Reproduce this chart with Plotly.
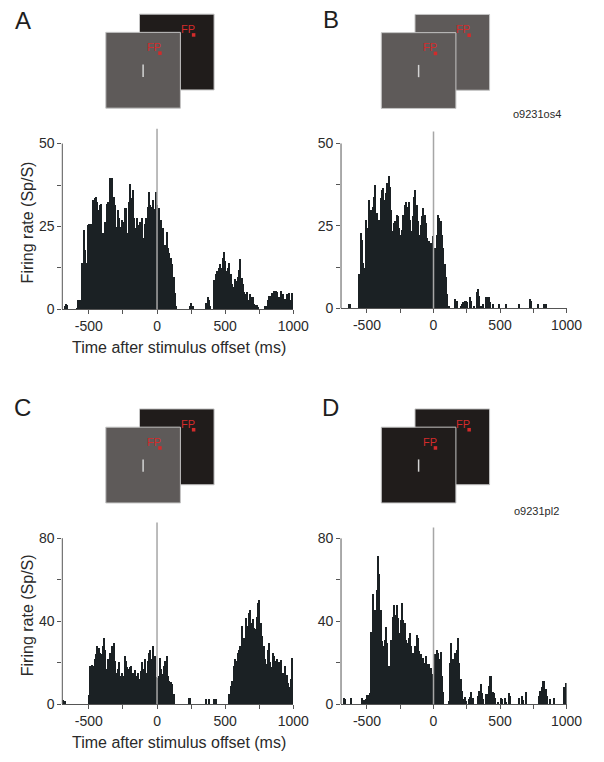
import plotly.graph_objects as go

W, H = 604, 762

# PSTH bins, 10 ms wide, first bin starts at -700 ms
bin_start_ms = -700
bin_width_ms = 10

# firing rate (Sp/S), one row = 100 ms
rate_a = [
    0, 0, 1, 1.8, 1.5, 0, 0, 0, 0, 0,
    0, 0.5, 3, 3, 0.5, 14, 24, 18, 14, 25.6,
    26, 26, 26, 33, 33.6, 34, 32.6, 30, 31.6, 31.8,
    23, 23, 26.6, 32, 32.6, 39.8, 35, 39.6, 34, 31.6,
    25, 30, 27.6, 25, 27, 26.6, 30.6, 30.6, 23, 32.6,
    37.8, 33.6, 36, 27.6, 24.6, 27.6, 25.6, 26.6, 21.7, 27.6,
    21.7, 26, 27.6, 31, 35.6, 31.6, 31, 33, 30.3, 35.6,
    31.6, 30.6, 24.8, 27, 24.6, 19, 19.6, 23.6, 18.7, 17,
    15.7, 13.7, 10, 5, 1, 0, 0, 0, 0, 0,
    0, 0, 0, 0, 1, 2, 1, 0, 0, 0,
    0, 0, 0, 0, 0, 0, 2, 4, 3, 1,
    0, 0, 9, 10.7, 11.7, 12.5, 13.7, 12.7, 15.7, 17.5,
    14.7, 11.7, 12.5, 14.2, 10.7, 7.8, 7, 9.2, 8.7, 10,
    12, 15.2, 9.7, 7.8, 5.5, 4.8, 5.3, 2.8, 4.8, 4,
    3.8, 1.8, 1.3, 1.3, 0.8, 0, 0, 0, 0, 1,
    1, 2.8, 4.3, 4.3, 5, 3.8, 5.8, 5.8, 5.5, 4,
    4, 5.8, 4.8, 3.3, 3.3, 4.8, 2.8, 5, 3, 5,
]

rate_b = [
    0, 0, 0, 0, 0, 0, 1.5, 1.5, 0, 0,
    0, 0, 0, 0, 10.5, 23, 21, 14, 12.5, 27,
    24.5, 33, 27.5, 30, 31, 34, 37.5, 29, 24.5, 27,
    33.5, 36, 36.5, 33, 35, 38, 40.3, 37, 30, 23.5,
    26, 26.5, 28.5, 28, 24.5, 22.5, 24, 28.5, 31.5, 32.5,
    31, 32.5, 27, 23.5, 28, 34, 36, 31.5, 26.5, 22.5,
    25.5, 28, 30.5, 28.5, 26, 21.5, 20.5, 19.5, 20, 22,
    18.5, 18.5, 22.5, 28.5, 27.5, 26.5, 22.5, 18.5, 13.5, 9.5,
    4.5, 1, 0, 0, 0, 0, 3, 2.5, 0, 0,
    1, 1.5, 2, 2.5, 2.5, 2, 0, 3.5, 2.5, 0,
    1, 0, 5, 6, 4, 1, 0, 1.5, 0, 3.5,
    3.5, 3.5, 2, 0, 1.5, 0, 0, 0, 0, 1.5,
    0, 0, 0, 0, 1.5, 0, 0, 0, 0, 0,
    0, 0, 0, 0, 1.5, 0, 0, 0, 0, 0,
    0, 0, 3, 2.5, 0, 0, 0, 0, 1.5, 0,
    0, 0, 0, 1.5, 1.5, 0, 0, 0, 0, 0,
    0, 0, 0, 0, 0, 0, 0, 0, 0, 0,
]

rate_c = [
    0, 2, 1.5, 0, 0, 0, 0, 0, 0, 0,
    0, 0, 0, 0, 0, 0, 0, 0, 0, 0,
    4, 18, 18.5, 18, 21.5, 24, 27.8, 27, 24.6, 24,
    27.8, 31.8, 26, 16.7, 21.5, 24.6, 24, 27.8, 29.4, 20.7,
    15, 16.7, 20, 13.5, 15, 13.5, 23, 20.7, 17.5, 16.7,
    17.5, 18, 15, 12.7, 16.4, 13.5, 15, 12, 16, 20,
    16.7, 21.5, 15, 20.7, 24.6, 26, 21.5, 27.8, 23, 12.7,
    12.4, 13.5, 22.3, 16.7, 14.3, 18.3, 20.7, 23, 13.5, 11,
    10.3, 9.5, 4.8, 0, 0, 0, 0, 0, 0, 0,
    0, 0, 0, 3, 3, 0, 0, 0, 0, 0,
    0, 0, 0, 0, 0, 0, 2.4, 0, 2.4, 0,
    0, 0, 2.4, 2.4, 0, 0, 0, 0, 0, 0,
    0, 0, 0, 4.8, 8.7, 11, 18.3, 21.5, 20.7, 24.6,
    26, 27.8, 37.4, 30.2, 31.8, 41.3, 37.4, 43.7, 45.3, 39,
    40.9, 36.6, 35.8, 42, 48.5, 50.1, 39, 32.6, 27.8, 21.5,
    19, 26, 29.4, 19.9, 17.5, 24.6, 23, 20.7, 21.5, 19.9,
    17, 21, 15, 12, 18, 14, 10, 8, 12, 22,
]

rate_d = [
    0, 0, 3, 2.5, 0, 0, 0, 0, 3, 0,
    0, 0, 0, 0, 0, 0, 3, 2, 2, 2.4,
    4.5, 4.5, 5, 34.5, 53, 41, 45.3, 54.8, 71.5, 62.8,
    45.3, 30.2, 27.8, 31, 37, 29.4, 18.3, 11.9, 31, 42,
    47.7, 43, 47.7, 41.3, 34.2, 40.5, 48.8, 40.5, 39, 31,
    29.4, 31.8, 34.2, 27.8, 24.6, 21.5, 27.8, 33.4, 31.8, 25.4,
    23.8, 21.5, 22.3, 19.9, 23, 19, 19, 16.7, 17.5, 14.3,
    15, 23.8, 26.2, 24.6, 21.5, 25, 13.5, 5.6, 0, 0,
    0, 1.6, 19.9, 29.4, 21.5, 16.7, 24.6, 26.2, 31.8, 19.9,
    11.9, 6.4, 2.4, 3.2, 1.6, 0, 2.4, 3.2, 5.5, 3,
    0, 0, 0, 4, 6, 9.5, 5, 2.4, 0, 4.8,
    4.8, 8.7, 13.5, 13.5, 5.6, 5, 3, 0, 1, 0,
    2.7, 2.5, 0, 2.7, 1, 0, 5, 4, 0, 0,
    0, 0, 0, 0, 3, 0, 4, 2, 0, 5.6,
    0, 0, 0, 0, 0, 0, 0, 0, 0, 4,
    6, 8, 11, 11, 7, 4, 0, 2.4, 0, 0,
    3, 0, 0, 0, 0, 0, 0, 0, 8, 10,
]

x_tick_vals = [-500, -250, 0, 250, 500, 750, 1000]
x_tick_text = ["-500", "", "0", "", "500", "", "1000"]
y_tick_vals_top = [0, 12.5, 25, 37.5, 50]
y_tick_text_top = ["0", "", "25", "", "50"]
y_tick_vals_bottom = [0, 20, 40, 60, 80]
y_tick_text_bottom = ["0", "", "40", "", "80"]

panel_letters = ["A", "B", "C", "D"]
cell_ids = ["o9231os4", "o9231pl2"]
x_title = "Time after stimulus offset (ms)"
y_title = "Firing rate (Sp/S)"

FONT = "Liberation Sans, Arial, sans-serif"
BAR = "#1b2124"
AXIS = "#555555"
TEXT = "#2a2a2a"
DARK = "#201c1b"
GRAY = "#5e5a59"
RED = "#d22b2b"


def px_x(x):
    return x / W


def px_y(y):
    return 1 - y / H


bin_centers = [bin_start_ms + bin_width_ms * (i + 0.5) for i in range(len(rate_a))]

# pixel boxes of each histogram, y range top chosen so the stimulus-offset line reaches the box top
panels = [
    dict(rates=rate_a, xpx=(64, 301.3), ypx=(130, 312.7), ytop=54.5, yaxmax=50,
         tv=y_tick_vals_top, tt=y_tick_text_top),
    dict(rates=rate_b, xpx=(350.3, 582), ypx=(133, 311.7), ytop=53.6, yaxmax=50,
         tv=y_tick_vals_top, tt=y_tick_text_top),
    dict(rates=rate_c, xpx=(64, 301.3), ypx=(528, 711.7), ytop=87.6, yaxmax=80,
         tv=y_tick_vals_bottom, tt=y_tick_text_bottom),
    dict(rates=rate_d, xpx=(350.3, 582), ypx=(533, 711.7), ytop=85.3, yaxmax=80,
         tv=y_tick_vals_bottom, tt=y_tick_text_bottom),
]

fig = go.Figure()
layout = {}
shapes = []
annotations = []

for i, p in enumerate(panels):
    s = "" if i == 0 else str(i + 1)
    fig.add_trace(go.Bar(
        x=bin_centers, y=p["rates"], width=bin_width_ms,
        xaxis="x" + s, yaxis="y" + s,
        marker=dict(color=BAR, line=dict(width=0)),
        showlegend=False, hoverinfo="skip",
    ))
    tick_font = dict(family=FONT, size=14, color=TEXT)
    layout["xaxis" + s] = dict(
        domain=[px_x(p["xpx"][0]), px_x(p["xpx"][1])], range=[-695, 1000],
        anchor="y" + s, showline=True, linecolor=AXIS, linewidth=1,
        ticks="outside", ticklen=4, tickcolor=AXIS, tickwidth=1,
        tickvals=x_tick_vals, ticktext=x_tick_text, tickfont=tick_font,
        showgrid=False, zeroline=False, fixedrange=True,
    )
    layout["yaxis" + s] = dict(
        domain=[px_y(p["ypx"][1]), px_y(p["ypx"][0])], range=[0, p["ytop"]],
        anchor="x" + s, showline=False,
        ticks="outside", ticklen=4, tickcolor=AXIS, tickwidth=1,
        tickvals=p["tv"], ticktext=p["tt"], tickfont=tick_font,
        showgrid=False, zeroline=False, fixedrange=True,
    )
    # y axis line only up to the top tick
    shapes.append(dict(type="line", xref="x%s domain" % s, yref="y" + s,
                       x0=0, x1=0, y0=0, y1=p["yaxmax"],
                       line=dict(color=AXIS, width=1)))
    # stimulus offset marker
    shapes.append(dict(type="line", xref="x" + s, yref="y%s domain" % s,
                       x0=0, x1=0, y0=0, y1=1, layer="above",
                       line=dict(color="#a6a6a6", width=1.5)))

SQ = 76.6


def add_screen(x0, y0, color, with_bar):
    shapes.append(dict(type="rect", xref="paper", yref="paper",
                       x0=px_x(x0), x1=px_x(x0 + SQ), y0=px_y(y0 + SQ), y1=px_y(y0),
                       fillcolor=color, line=dict(color="#c4c4c4", width=1)))
    annotations.append(dict(text="FP", x=px_x(x0 + 49.5), y=px_y(y0 + 15),
                            xref="paper", yref="paper", showarrow=False,
                            xanchor="center", yanchor="middle",
                            font=dict(family=FONT, size=11, color=RED)))
    shapes.append(dict(type="rect", xref="paper", yref="paper",
                       x0=px_x(x0 + 53.8), x1=px_x(x0 + 57.4),
                       y0=px_y(y0 + 22.8), y1=px_y(y0 + 19.2),
                       fillcolor=RED, line=dict(width=0)))
    if with_bar:
        shapes.append(dict(type="line", xref="paper", yref="paper",
                           x0=px_x(x0 + 38.3), x1=px_x(x0 + 38.3),
                           y0=px_y(y0 + 45), y1=px_y(y0 + 32.6),
                           line=dict(color="#d4d4d4", width=1.5)))


# (front x, front y, front colour, back colour)
screens = [
    (108.7, 32.7, GRAY, DARK),
    (391.7, 33.0, GRAY, GRAY),
    (108.7, 431.7, GRAY, DARK),
    (391.7, 431.7, DARK, DARK),
]
for fx, fy, front, back in screens:
    add_screen(fx + 34.6, fy - 18.4, back, False)
    add_screen(fx, fy, front, True)

letter_pos = [(23.5, 21), (339.5, 20), (23.5, 412), (340, 412)]
for letter, (lx, ly) in zip(panel_letters, letter_pos):
    annotations.append(dict(text=letter, x=px_x(lx), y=px_y(ly), xref="paper", yref="paper",
                            showarrow=False, xanchor="center", yanchor="middle",
                            font=dict(family=FONT, size=24, color="#1e1e1e")))

for cid, (cx, cy) in zip(cell_ids, [(552, 115), (551, 516)]):
    annotations.append(dict(text=cid, x=px_x(cx), y=px_y(cy), xref="paper", yref="paper",
                            showarrow=False, xanchor="center", yanchor="middle",
                            font=dict(family=FONT, size=11, color=TEXT)))

for ty in (225, 622):
    annotations.append(dict(text=y_title, x=px_x(28.5), y=px_y(ty), xref="paper", yref="paper",
                            showarrow=False, textangle=-90, xanchor="center", yanchor="middle",
                            font=dict(family=FONT, size=16, color=TEXT)))
for ty in (351, 750):
    annotations.append(dict(text=x_title, x=px_x(184), y=px_y(ty), xref="paper", yref="paper",
                            showarrow=False, xanchor="center", yanchor="middle",
                            font=dict(family=FONT, size=16, color=TEXT)))

fig.update_layout(
    width=W, height=H, margin=dict(l=0, r=0, t=0, b=0),
    paper_bgcolor="white", plot_bgcolor="white",
    bargap=0, shapes=shapes, annotations=annotations, **layout,
)

# no page margin and no scrollbars, so the 604x762 figure fills the window exactly
page_fix = (
    "document.documentElement.style.overflow = 'hidden';"
    "document.body.style.overflow = 'hidden';"
    "document.body.style.margin = '0';"
)
fig.write_html("out.html", config={"displayModeBar": False}, post_script=page_fix)
